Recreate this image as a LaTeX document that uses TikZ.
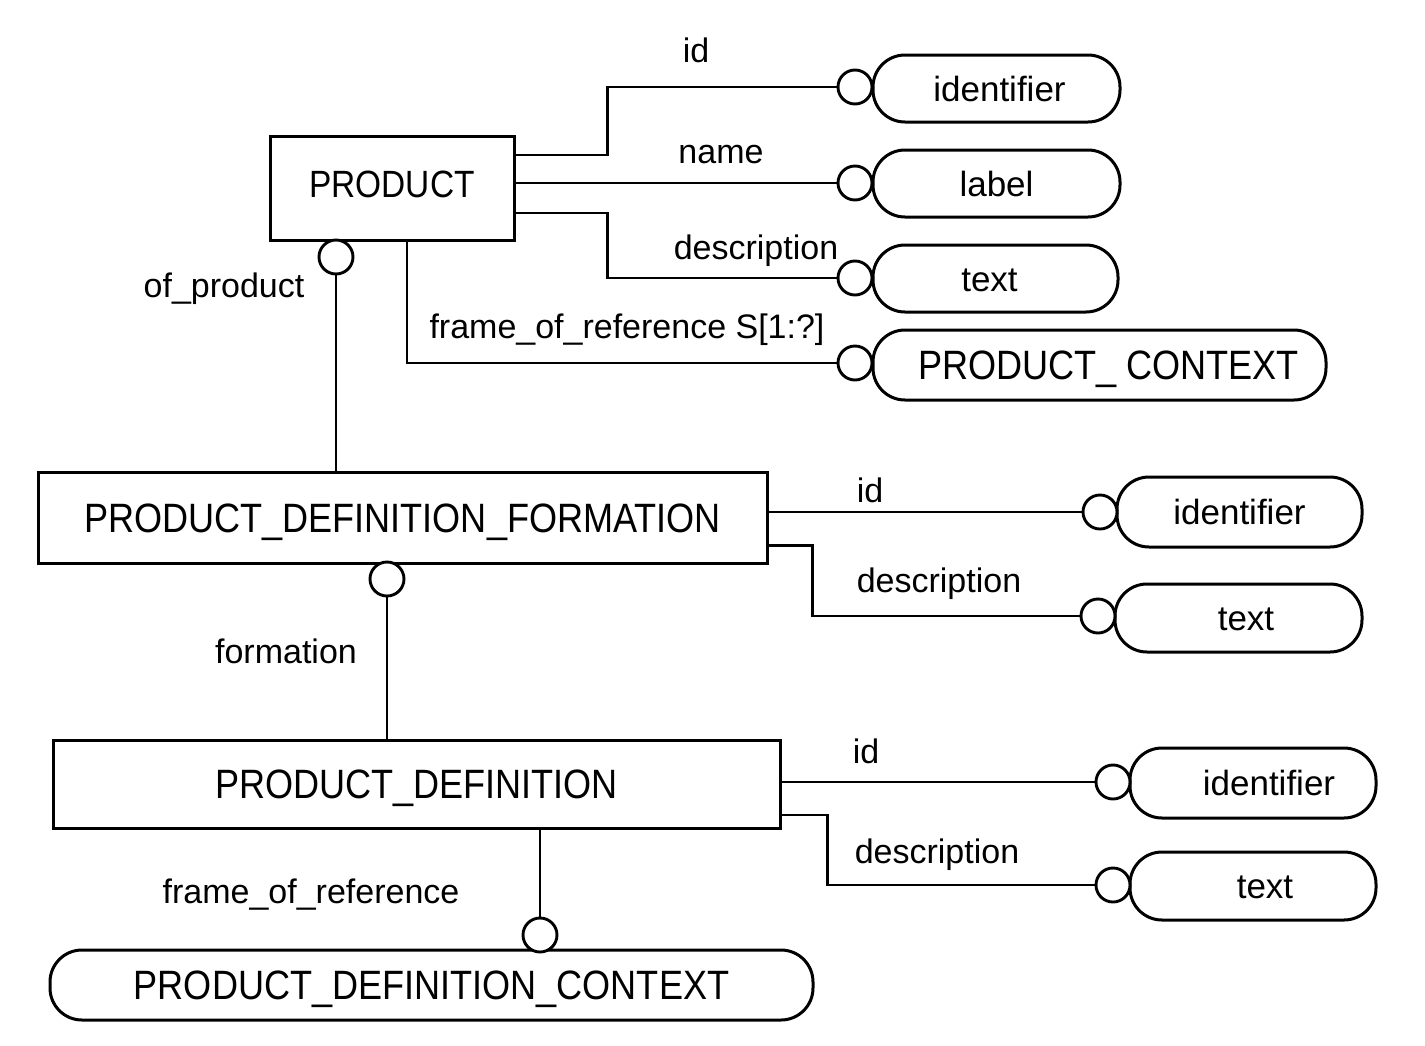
\documentclass[tikz,border=0pt]{standalone}
\usepackage{fontspec}
\setmainfont{Liberation Sans}
\newfontfamily\entfont{Liberation Sans}[FakeStretch=0.88]
\begin{document}
\begin{tikzpicture}[x=1pt,y=-1pt,
  conn/.style={line width=2.9pt},
  entbox/.style={draw,line width=3pt,rectangle,inner sep=0pt,font=\entfont\fontsize{41}{48}\selectfont,text height=29.5pt,text depth=0pt},
  pill/.style={draw,line width=3pt,rectangle,rounded corners=32pt,inner sep=0pt,font=\fontsize{35}{42}\selectfont,text height=25pt,text depth=0pt},
  entpill/.style={pill,font=\entfont\fontsize{41}{48}\selectfont,text height=29.5pt},
  ring/.style={draw,circle,line width=2.9pt,fill=white,inner sep=0pt,minimum size=34pt},
  lbl/.style={font=\fontsize{34}{40}\selectfont,anchor=base,inner sep=0pt}]
\useasboundingbox[fill=white] (0,0) rectangle (1425,1045);

% ---------- PRODUCT ----------
\node[entbox,font=\entfont\fontsize{38}{44}\selectfont,text height=27pt,text depth=9pt,minimum width=244,minimum height=104] (prod) at (392,188) {PRODUCT};

\node[pill,minimum width=247,minimum height=67] (p1) at (996.5,88.5) {\hspace*{6pt}identifier};
\node[pill,minimum width=247,minimum height=67] (p2) at (996.5,183.5) {label};
\node[pill,minimum width=245,minimum height=67] (p3) at (995.5,278.5) {text\hspace*{12pt}};
\node[entpill,minimum width=453,minimum height=70] (p4) at (1099.5,365) {\hspace*{18pt}PRODUCT\_ CONTEXT};

\node[ring] (c1) at (855,87) {};
\node[ring] (c2) at (855,183) {};
\node[ring] (c3) at (855,278) {};
\node[ring] (c4) at (855,363) {};

\draw[conn] ([yshift=33pt]prod.east) -- ++(92,0) |- (c1.west);
\draw[conn] (prod.east |- c2.west) -- (c2.west);
\draw[conn] ([yshift=-25pt]prod.east) -- ++(92,0) |- (c3.west);
\draw[conn] ([xshift=15pt]prod.south) |- (c4.west);

\node[lbl] (l1) at (696,62) {id};
\node[lbl] (l2) at (721,163) {name};
\node[lbl] (l3) at (756,259) {description};
\node[lbl] (l4) at (627,338) {frame\_of\_reference S[1:?]};

% ---------- PRODUCT_DEFINITION_FORMATION ----------
\node[entbox,minimum width=729,minimum height=91] (pdf) at (402.5,517.5) {PRODUCT\_DEFINITION\_FORMATION};
\node[ring] (c5) at (336,257) {};
\draw[conn] (c5.south) -- (c5.south |- pdf.north);
\node[lbl] (l5) at (224,297) {of\_product};

\node[pill,minimum width=245,minimum height=70] (p6) at (1239.5,512) {identifier};
\node[pill,minimum width=247,minimum height=68] (p7) at (1238.5,618) {\hspace*{15pt}text};
\node[ring] (c6) at (1100,512) {};
\node[ring] (c7) at (1098,616) {};
\draw[conn] (pdf.east |- c6.west) -- (c6.west);
\draw[conn] ([yshift=-28pt]pdf.east) -- ++(44,0) |- (c7.west);
\node[lbl] (l6) at (870,502) {id};
\node[lbl] (l7) at (939,592) {description};

% ---------- PRODUCT_DEFINITION ----------
\node[entbox,minimum width=727,minimum height=88] (pd) at (416.5,784) {PRODUCT\_DEFINITION};
\node[ring] (c8) at (387,579) {};
\draw[conn] (c8.south) -- (c8.south |- pd.north);
\node[lbl] (l8) at (286,663) {formation};

\node[pill,minimum width=246,minimum height=70] (p9) at (1253,783) {\hspace*{32pt}identifier};
\node[pill,minimum width=246,minimum height=68] (p10) at (1253,886) {\hspace*{24pt}text};
\node[ring] (c9) at (1113,782) {};
\node[ring] (c10) at (1113,885) {};
\draw[conn] (pd.east |- c9.west) -- (c9.west);
\draw[conn] ([yshift=-31pt]pd.east) -- ++(46,0) |- (c10.west);
\node[lbl] (l9) at (866,763) {id};
\node[lbl] (l10) at (937,863) {description};

% ---------- PRODUCT_DEFINITION_CONTEXT ----------
\node[entpill,minimum width=763,minimum height=70] (p11) at (431.5,985) {PRODUCT\_DEFINITION\_CONTEXT};
\node[ring] (c11) at (540,935) {};
\draw[conn] (c11.north |- pd.south) -- (c11.north);
\node[lbl] (l11) at (311,903) {frame\_of\_reference};
\end{tikzpicture}
\end{document}
